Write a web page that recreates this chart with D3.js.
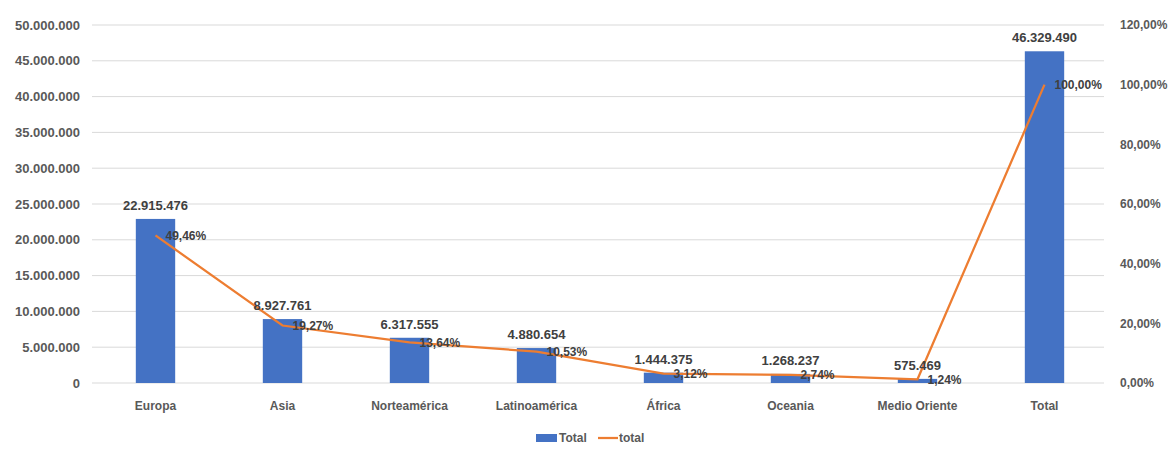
<!DOCTYPE html>
<html>
<head>
<meta charset="utf-8">
<script src="https://cdn.jsdelivr.net/npm/d3@7"></script>
<style>
  html, body { margin: 0; padding: 0; background: #fff; }
  svg text { font-family: "Liberation Sans", "DejaVu Sans", sans-serif; }
</style>
</head>
<body>
<svg id="chart" width="1173" height="452"></svg>
<script>
// Regions and their totals (bars) plus share of the grand total (line)
const categories = ["Europa", "Asia", "Norteamérica", "Latinoamérica", "África", "Oceania", "Medio Oriente", "Total"];
const totals = [22915476, 8927761, 6317555, 4880654, 1444375, 1268237, 575469, 46329490];
const shares = [0.4946, 0.1927, 0.1364, 0.1053, 0.0312, 0.0274, 0.0124, 1.0];
const leftTicks = [0, 5000000, 10000000, 15000000, 20000000, 25000000, 30000000, 35000000, 40000000, 45000000, 50000000];
const rightTicks = [0, 0.2, 0.4, 0.6, 0.8, 1.0, 1.2];
const legendLabels = ["Total", "total"];

const locale = d3.formatLocale({ decimal: ",", thousands: ".", grouping: [3], currency: ["€", ""] });
const fmtInt = locale.format(",d");
const fmtPct = locale.format(".2%");

const svg = d3.select("#chart");
const plot = { left: 92, right: 1108, top: 25, bottom: 383 };

const x = d3.scaleBand().domain(categories).range([plot.left, plot.right]).paddingInner(0.69).paddingOuter(0.345);
const yL = d3.scaleLinear().domain([0, 50000000]).range([plot.bottom, plot.top]);
const yR = d3.scaleLinear().domain([0, 1.2]).range([plot.bottom, plot.top]);

const blue = "#4472C4", orange = "#ED7D31", tickColor = "#595959", labelColor = "#404040";

// Horizontal gridlines
svg.append("g").selectAll("line").data(leftTicks).join("line")
  .attr("x1", plot.left).attr("x2", plot.right - 4)
  .attr("y1", d => yL(d)).attr("y2", d => yL(d))
  .attr("stroke", "#d9d9d9").attr("stroke-width", 1);

// Left axis
const axL = svg.append("g").attr("transform", `translate(${plot.left},0)`)
  .call(d3.axisLeft(yL).tickValues(leftTicks).tickFormat(fmtInt).tickSize(0).tickPadding(12));
axL.select(".domain").remove();
axL.selectAll("text").attr("fill", tickColor).style("font-size", "13px").style("font-weight", "bold");

// Right axis
const axR = svg.append("g").attr("transform", `translate(${plot.right},0)`)
  .call(d3.axisRight(yR).tickValues(rightTicks).tickFormat(fmtPct).tickSize(0).tickPadding(12));
axR.select(".domain").remove();
axR.selectAll("text").attr("fill", tickColor).style("font-size", "12px").style("font-weight", "bold");

// Category axis
const axX = svg.append("g").attr("transform", `translate(0,${plot.bottom})`)
  .call(d3.axisBottom(x).tickSize(0).tickPadding(18));
axX.select(".domain").remove();
axX.selectAll("text").attr("fill", tickColor).style("font-size", "12px").style("font-weight", "bold");

// Bars
svg.append("g").selectAll("rect").data(categories).join("rect")
  .attr("x", d => x(d)).attr("width", x.bandwidth())
  .attr("y", (d, i) => yL(totals[i]))
  .attr("height", (d, i) => yL(0) - yL(totals[i]))
  .attr("fill", blue);

// Share line
const line = d3.line()
  .x((d, i) => x(categories[i]) + x.bandwidth() / 2)
  .y(d => yR(d));
svg.append("path").datum(shares)
  .attr("d", line).attr("fill", "none")
  .attr("stroke", orange).attr("stroke-width", 2.25);

// Bar value labels
svg.append("g").selectAll("text").data(categories).join("text")
  .attr("x", d => x(d) + x.bandwidth() / 2)
  .attr("y", (d, i) => yL(totals[i]) - 9)
  .attr("text-anchor", "middle")
  .attr("fill", labelColor)
  .style("font-size", "13px").style("font-weight", "bold")
  .text((d, i) => fmtInt(totals[i]));

// Share labels, right of each point
svg.append("g").selectAll("text").data(shares).join("text")
  .attr("x", (d, i) => x(categories[i]) + x.bandwidth() / 2 + 10)
  .attr("y", d => yR(d))
  .attr("dy", "0.35em")
  .attr("fill", labelColor)
  .style("font-size", "12px").style("font-weight", "bold")
  .text(d => fmtPct(d));

// Legend
const lg = svg.append("g").attr("transform", "translate(536,438)");
lg.append("rect").attr("x", 0).attr("y", -4).attr("width", 21).attr("height", 8).attr("fill", blue);
lg.append("text").attr("x", 23).attr("y", 0).attr("dy", "0.35em")
  .attr("fill", tickColor).style("font-size", "12px").style("font-weight", "bold").text(legendLabels[0]);
lg.append("line").attr("x1", 62).attr("x2", 82).attr("y1", 0).attr("y2", 0)
  .attr("stroke", orange).attr("stroke-width", 2.25);
lg.append("text").attr("x", 83).attr("y", 0).attr("dy", "0.35em")
  .attr("fill", tickColor).style("font-size", "12px").style("font-weight", "bold").text(legendLabels[1]);
</script>
</body>
</html>
